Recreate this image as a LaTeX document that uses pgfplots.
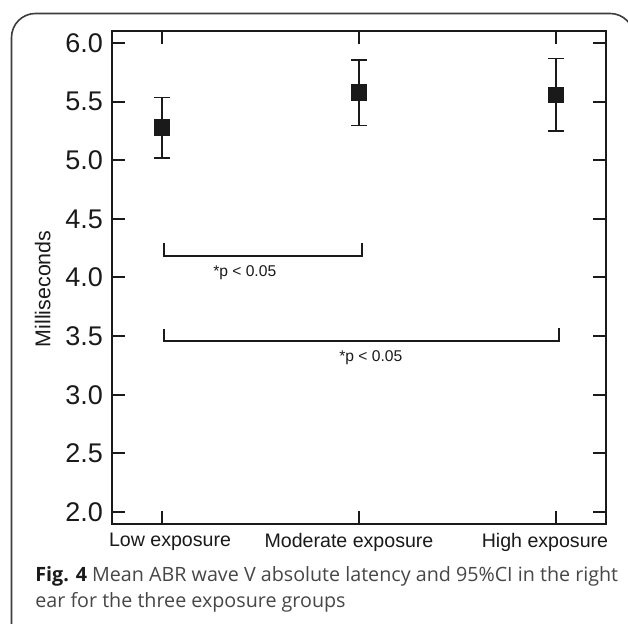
\documentclass[border=0pt]{standalone}
\usepackage{fontspec}
\setmainfont{Liberation Sans}
\newfontfamily\capfont{Open Sans}
\usepackage{pgfplots}
\pgfplotsset{compat=1.18}
\definecolor{ink}{HTML}{1A1A1A}
\definecolor{capgray}{HTML}{474747}
\begin{document}
\begin{tikzpicture}[x=0.5pt,y=0.5pt]
\begin{scope}
\clip (0,0) rectangle (628,624);
\fill[white] (0,0) rectangle (628,624);
\draw[line width=0.8pt, color=ink!85, rounded corners=12pt] (11.5,-30) -- (11.5,610.5) -- (634,610.5) -- (634,-30);
\end{scope}
\begin{axis}[
  at={(56pt,50pt)}, anchor=south west,
  scale only axis, width=247pt, height=246.5pt,
  xmin=-0.254, xmax=2.254, ymin=1.898, ymax=6.102,
  xtick={0,1,2}, xticklabels={\hspace*{8pt}Low exposure, Moderate exposure\hspace*{10pt}, High exposure\hspace*{11pt}},
  ytick={2,2.5,...,6},
  y tick label style={font=\fontsize{13.5}{14}\selectfont, xshift=-1pt},
  yticklabel={\pgfmathprintnumber[fixed,fixed zerofill,precision=1,assume math mode=true]{\tick}},
  tick label style={color=ink},
  x tick label style={font=\fontsize{9.8}{10}\selectfont, yshift=-1pt},
  major tick length=6.5pt,
  tick style={line width=1pt, color=ink},
  axis line style={line width=1pt, color=ink},
  ylabel={Milliseconds},
  ylabel style={font=\fontsize{10.7}{11}\selectfont, at={(axis description cs:-0.14,0.477)}, anchor=center, color=ink},
  clip=false,
]
\addplot[ink, only marks, mark=square*, mark size=3.8pt, line width=0.75pt,
  error bars/.cd, y dir=both, y explicit,
  error bar style={line width=0.75pt, color=ink},
  error mark options={rotate=90, mark size=4pt, line width=0.75pt, color=ink}]
  coordinates {
  (0,5.277) += (0,0.256) -= (0,0.256)
  (1,5.579) += (0,0.276) -= (0,0.281)
  (2,5.556) += (0,0.313) -= (0,0.309)
  };
\addplot[ink, line width=0.9pt, sharp plot, mark=none] coordinates {(0.01,4.29) (0.01,4.185) (1.015,4.185) (1.015,4.29)};
\addplot[ink, line width=0.9pt, sharp plot, mark=none] coordinates {(0.01,3.562) (0.01,3.457) (2.015,3.457) (2.015,3.568)};
\node[font=\fontsize{7.8}{9}\selectfont, color=ink] at (axis cs:0.42,4.04) {*p < 0.05};
\node[font=\fontsize{7.8}{9}\selectfont, color=ink] at (axis cs:1.06,3.32) {*p < 0.05};
\end{axis}
\node[anchor=base west, inner sep=0pt, font=\capfont\fontsize{9.85}{11}\selectfont, color=capgray] at (35,42) {\textcolor{ink}{\textbf{Fig. 4}} Mean ABR wave V absolute latency and 95\%CI in the right};
\node[anchor=base west, inner sep=0pt, font=\capfont\fontsize{9.85}{11}\selectfont, color=capgray] at (35,16) {ear for the three exposure groups};
\pgfresetboundingbox
\useasboundingbox (0,0) rectangle (628,624);
\end{tikzpicture}
\end{document}
